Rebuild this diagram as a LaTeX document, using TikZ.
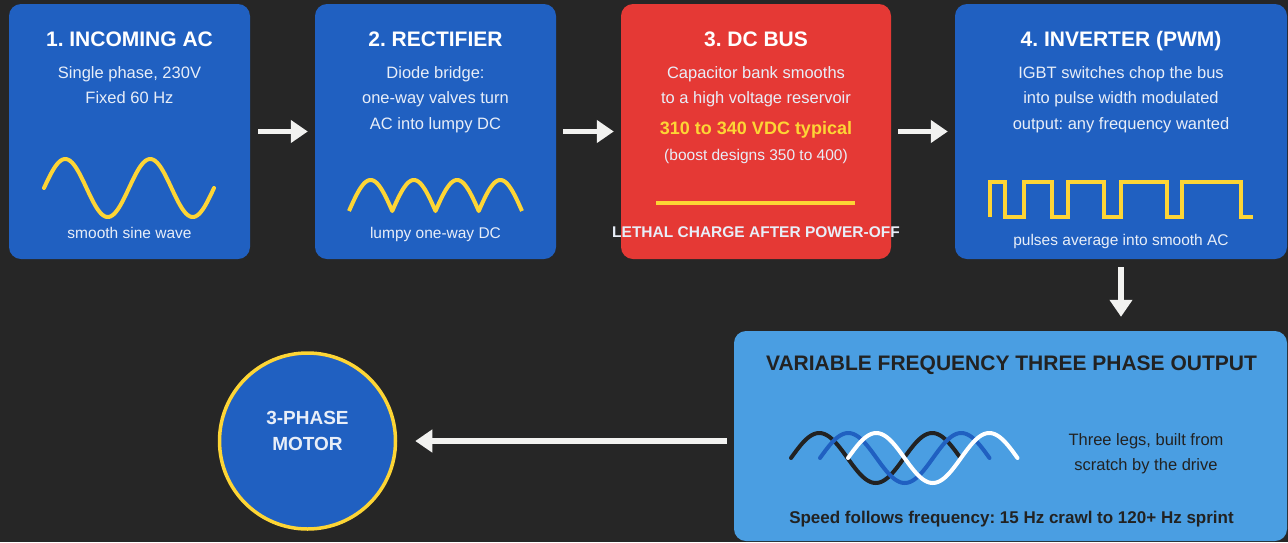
\documentclass[tikz,border=0pt]{standalone}
\usepackage{fontspec}
\setmainfont{Liberation Sans}
\usetikzlibrary{arrows.meta}
\frenchspacing
\definecolor{bg}{RGB}{38,38,38}
\definecolor{boxblue}{RGB}{32,96,193}
\definecolor{boxred}{RGB}{229,57,53}
\definecolor{lightblue}{RGB}{74,158,226}
\definecolor{wyellow}{RGB}{253,213,53}
\definecolor{bodytxt}{RGB}{232,238,248}
\definecolor{darktxt}{RGB}{34,34,34}
\definecolor{arrowc}{RGB}{242,242,240}
\tikzset{
  panel/.style={rounded corners=12pt, draw=none, inner sep=0pt},
  ttl/.style={anchor=base, inner sep=0pt, text=white, font=\bfseries\fontsize{21}{25}\selectfont},
  body/.style={anchor=base, inner sep=0pt, text=bodytxt, font=\fontsize{16.5}{20}\selectfont},
  capt/.style={anchor=base, inner sep=0pt, text=bodytxt, font=\fontsize{15.5}{19}\selectfont},
  flow/.style={draw=arrowc, line width=5.5pt, -{Triangle[width=22pt,length=17pt]}},
  wave/.style={line width=4pt, line cap=round, line join=round},
}
\begin{document}
\begin{tikzpicture}[x=1pt,y=-1pt]
\useasboundingbox (0,0) rectangle (1288,542);
\fill[bg] (0,0) rectangle (1288,542);

% boxes
\node[panel, fill=boxblue, minimum width=241pt, minimum height=255pt] (b1) at (129.5,131.5) {};
\node[panel, fill=boxblue, minimum width=241pt, minimum height=255pt] (b2) at (435.5,131.5) {};
\node[panel, fill=boxred, minimum width=270pt, minimum height=255pt] (b3) at (756,131.5) {};
\node[panel, fill=boxblue, minimum width=332pt, minimum height=255pt] (b4) at (1121,131.5) {};
\node[panel, fill=lightblue, minimum width=553pt, minimum height=210pt] (out) at (1010.5,436) {};
\node[circle, fill=boxblue, draw=wyellow, line width=3.5pt, minimum size=176pt, inner sep=0pt] (motor) at (307.5,441) {};

% box 1
\node[ttl] (t1) at (129.5,46) {1. INCOMING AC};
\node[body] (t1a) at (129.5,78) {Single phase, 230V};
\node[body] (t1b) at (129.5,103) {Fixed 60 Hz};
\draw[wave, wyellow] plot[domain=0:720, samples=121, smooth] ({44+\x/720*170},{188-29*sin(\x)});
\node[capt] (c1) at (129.5,238) {smooth sine wave};

% box 2
\node[ttl] (t2) at (435.5,46) {2. RECTIFIER};
\node[body] (t2a) at (435.5,78) {Diode bridge:};
\node[body] (t2b) at (435.5,103) {one-way valves turn};
\node[body] (t2c) at (435.5,129) {AC into lumpy DC};
\draw[wave, wyellow, line cap=butt] plot[domain=0:720, samples=145] ({349+\x/720*173},{211-31*abs(sin(\x))});
\node[capt] (c2) at (435.5,238) {lumpy one-way DC};

% box 3
\node[ttl] (t3) at (756,46) {3. DC BUS};
\node[body] (t3a) at (756,78) {Capacitor bank smooths};
\node[body] (t3b) at (756,103) {to a high voltage reservoir};
\node[anchor=base, inner sep=0pt, text=wyellow, font=\bfseries\fontsize{18}{22}\selectfont] (t3c) at (756,134) {310 to 340 VDC typical};
\node[capt] (t3d) at (756,160.5) {(boost designs 350 to 400)};
\draw[wyellow, line width=4pt] (656,202.5) -- (855,202.5);
\node[anchor=base, inner sep=0pt, text=bodytxt, font=\bfseries\fontsize{15.5}{19}\selectfont] (c3) at (756,237) {LETHAL CHARGE AFTER POWER-OFF};

% box 4
\node[ttl] (t4) at (1121,46) {4. INVERTER (PWM)};
\node[body] (t4a) at (1121,78) {IGBT switches chop the bus};
\node[body] (t4b) at (1121,103) {into pulse width modulated};
\node[body] (t4c) at (1121,129) {output: any frequency wanted};
\draw[wyellow, line width=3.5pt, line join=miter] (990,217) -- (990,182) -- (1005,182) -- (1005,217) -- (1024,217) -- (1024,182) -- (1052,182) -- (1052,217) -- (1068,217) -- (1068,182) -- (1104,182) -- (1104,217) -- (1121,217) -- (1121,182) -- (1167,182) -- (1167,217) -- (1182,217) -- (1182,182) -- (1241,182) -- (1241,217) -- (1253,217);
\node[capt] (c4) at (1121,245.5) {pulses average into smooth AC};

% output box
\node[anchor=base, inner sep=0pt, text=darktxt, font=\bfseries\fontsize{21}{25}\selectfont] (t5) at (1011.5,370.5) {VARIABLE FREQUENCY THREE PHASE OUTPUT};
\draw[wave, darktxt] plot[domain=0:540, samples=91, smooth] ({791+\x/360*113},{458-25*sin(\x)});
\draw[wave, boxblue] plot[domain=0:540, samples=91, smooth] ({820+\x/360*113},{458-25*sin(\x)});
\draw[wave, white] plot[domain=0:540, samples=91, smooth] ({848+\x/360*113},{458-25*sin(\x)});
\node[anchor=base, inner sep=0pt, text=darktxt, font=\fontsize{16.5}{20}\selectfont] (t5a) at (1146,445) {Three legs, built from};
\node[anchor=base, inner sep=0pt, text=darktxt, font=\fontsize{16.5}{20}\selectfont] (t5b) at (1146,470) {scratch by the drive};
\node[anchor=base, inner sep=0pt, text=darktxt, font=\bfseries\fontsize{17}{21}\selectfont] (t5c) at (1011.5,523) {Speed follows frequency: 15 Hz crawl to 120+ Hz sprint};

% motor text
\node[anchor=base, inner sep=0pt, text=bodytxt, font=\bfseries\fontsize{19}{23}\selectfont] (m1) at (307.5,424.5) {3-PHASE};
\node[anchor=base, inner sep=0pt, text=bodytxt, font=\bfseries\fontsize{19}{23}\selectfont] (m2) at (307.5,450.5) {MOTOR};

% connectors
\draw[flow] ([xshift=8pt]b1.east) -- ([xshift=-7pt]b2.west);
\draw[flow] ([xshift=7pt]b2.east) -- ([xshift=-7pt]b3.west);
\draw[flow] ([xshift=7pt]b3.east) -- ([xshift=-7pt]b4.west);
\draw[flow] ([yshift=-8pt]b4.south) -- ([yshift=14pt]b4.south |- out.north);
\draw[flow] ([xshift=-7pt]motor.center -| out.west) -- ([xshift=18pt]motor.east);
\end{tikzpicture}
\end{document}
